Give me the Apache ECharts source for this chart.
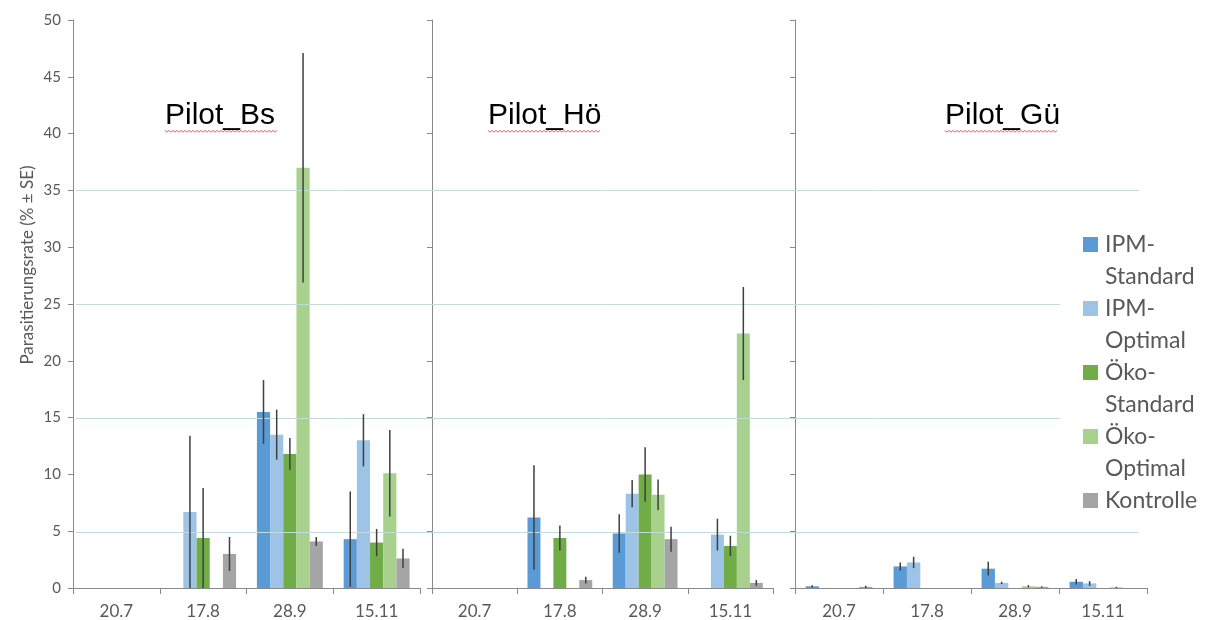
<!DOCTYPE html>
<html><head><meta charset="utf-8">
<script src="https://cdn.jsdelivr.net/npm/echarts@6/dist/echarts.min.js"></script>
<style>html,body{margin:0;padding:0;background:#fff}#c{width:1215px;height:620px}</style>
</head><body><div id="c"></div>
<script>
// ---------- data ----------
const categories = ['20.7', '17.8', '28.9', '15.11'];
const seriesNames = ['IPM-Standard', 'IPM-Optimal', 'Öko-Standard', 'Öko-Optimal', 'Kontrolle'];
const legendLabels = ['IPM-\nStandard', 'IPM-\nOptimal', 'Öko-\nStandard', 'Öko-\nOptimal', 'Kontrolle'];
const seriesColors = ['#5b9bd5', '#9dc3e6', '#70ad47', '#a9d18e', '#a5a5a5'];
const panelTitles = ['Pilot_Bs', 'Pilot_Hö', 'Pilot_Gü'];
const yMin = 0, yMax = 50, yInterval = 5;
const gridLineValues = [5, 15, 25, 35];
const yAxisTitle = 'Parasitierungsrate (% ± SE)';

// means per series (rows: IPM-Std, IPM-Opt, Öko-Std, Öko-Opt, Kontrolle), columns: categories
const bsMeans = [
  [0, 0, 15.5, 4.3],
  [0, 6.7, 13.5, 13.0],
  [0, 4.4, 11.8, 4.0],
  [0, 0, 37.0, 10.1],
  [0, 3.0, 4.1, 2.6]
];
const bsSE = [
  [0, 0, 2.8, 4.2],
  [0, 6.7, 2.2, 2.3],
  [0, 4.4, 1.4, 1.2],
  [0, 0, 10.1, 3.8],
  [0, 1.5, 0.4, 0.85]
];
const hoMeans = [
  [0, 6.2, 4.8, 0],
  [0, 0, 8.3, 4.7],
  [0, 4.4, 10.0, 3.7],
  [0, 0, 8.2, 22.4],
  [0, 0.7, 4.3, 0.45]
];
const hoSE = [
  [0, 4.6, 1.7, 0],
  [0, 0, 1.2, 1.4],
  [0, 1.1, 2.4, 0.9],
  [0, 0, 1.35, 4.1],
  [0, 0.3, 1.1, 0.25]
];
const guMeans = [
  [0.15, 1.9, 1.7, 0.55],
  [0, 2.25, 0.45, 0.4],
  [0, 0, 0, 0],
  [0, 0, 0.15, 0.05],
  [0.1, 0, 0.1, 0]
];
const guSE = [
  [0.1, 0.35, 0.6, 0.25],
  [0, 0.5, 0.1, 0.2],
  [0, 0, 0, 0],
  [0, 0, 0.1, 0.05],
  [0.1, 0, 0.05, 0]
];

// ---------- chart ----------
const panelMeans = [bsMeans, hoMeans, guMeans];
const panelSE = [bsSE, hoSE, guSE];
const GAP = 0.24;
const AXIS_COLOR = '#8a8a8a';
const TEXT_COLOR = '#595959';
const FONT = 'Lato';

const panelLayout = [
  { left: 73, width: 347 },
  { left: 432, width: 341 },
  { left: 795, width: 352 }
];

const grids = panelLayout.map(p => ({ left: p.left, width: p.width, top: 20, bottom: 31 }));
grids.push({ left: 76, right: 76, top: 20, bottom: 31 });

const xAxes = panelLayout.map((p, i) => ({
  type: 'category', gridIndex: i, data: categories,
  axisLine: { lineStyle: { color: AXIS_COLOR, width: 1 } },
  axisTick: { show: true, length: 6, lineStyle: { color: AXIS_COLOR } },
  axisLabel: { color: TEXT_COLOR, fontSize: 17, fontFamily: FONT, margin: 15 }
}));
xAxes.push({ type: 'value', gridIndex: 3, min: 0, max: 1, show: false });

const yAxes = panelLayout.map((p, i) => ({
  type: 'value', gridIndex: i, min: yMin, max: yMax, interval: yInterval,
  axisLine: { show: true, lineStyle: { color: AXIS_COLOR, width: 1 } },
  axisTick: { show: true, length: 5, lineStyle: { color: AXIS_COLOR } },
  axisLabel: { show: i === 0, color: TEXT_COLOR, fontSize: 15, fontFamily: FONT, margin: 12 },
  splitLine: { show: false }
}));
yAxes.push({ type: 'value', gridIndex: 3, min: yMin, max: yMax, show: false });

const series = [];
for (let p = 0; p < 3; p++) {
  for (let s = 0; s < seriesNames.length; s++) {
    series.push({
      type: 'bar', name: seriesNames[s], xAxisIndex: p, yAxisIndex: p,
      data: panelMeans[p][s],
      barGap: 0, barCategoryGap: (GAP * 100) + '%',
      itemStyle: { color: seriesColors[s] },
      silent: true, z: 2
    });
  }
  for (let s = 0; s < seriesNames.length; s++) {
    const sIdx = s;
    series.push({
      type: 'custom', name: seriesNames[s] + ' SE', xAxisIndex: p, yAxisIndex: p,
      silent: true, z: 6,
      data: panelMeans[p][s].map((m, i) => [i, m, panelSE[p][s][i]]),
      renderItem: function (params, api) {
        const ci = api.value(0), m = api.value(1), se = api.value(2);
        if (!se) return null;
        const band = api.size([1, 0])[0];
        const bw = band * (1 - GAP) / 5;
        const cx = api.coord([ci, 0])[0] + (sIdx - 2) * bw;
        const yTop = api.coord([ci, m + se])[1];
        const yBot = api.coord([ci, Math.max(0, m - se)])[1];
        return {
          type: 'line',
          shape: { x1: cx, y1: yTop, x2: cx, y2: yBot },
          style: { stroke: '#3f3f3f', lineWidth: 1.5 }
        };
      }
    });
  }
}
// horizontal reference lines spanning all panels
series.push({
  type: 'line', xAxisIndex: 3, yAxisIndex: 3, data: [[0, 0]],
  symbol: 'none', lineStyle: { width: 0, opacity: 0 }, silent: true, z: 8,
  markLine: {
    silent: true, symbol: 'none', label: { show: false },
    lineStyle: { color: '#c2dcdc', width: 1, type: 'solid' },
    emphasis: { disabled: true },
    data: gridLineValues.map(v => ({ yAxis: v }))
  }
});

// graphics: titles, legend, y axis name
const titleLeft = [165, 488, 945];
const graphic = [];
panelTitles.forEach((t, i) => {
  graphic.push({
    type: 'text', left: titleLeft[i], top: 101, z: 100,
    style: { text: t, fill: '#000', font: '30px "Liberation Sans", Arial, sans-serif' }
  });
  // red spell-check wavy underline
  const w = t.length * 14.2;
  const pts = [];
  for (let x = 0; x <= w; x += 2) pts.push([titleLeft[i] + x, 131 + ((x / 2) % 2 ? 1.2 : -0.6)]);
  graphic.push({ type: 'polyline', z: 100, shape: { points: pts }, style: { stroke: '#e06060', lineWidth: 1, fill: null } });
});
graphic.push({
  type: 'text', x: 28, y: 265, rotation: Math.PI / 2, z: 100,
  style: { text: yAxisTitle, fill: TEXT_COLOR, font: '17px ' + FONT, align: 'center', verticalAlign: 'middle' }
});
// legend with white backdrop
graphic.push({ type: 'rect', z: 90, shape: { x: 1060, y: 215, width: 155, height: 305 }, style: { fill: '#fff' } });
legendLabels.forEach((lbl, i) => {
  const cy = 245 + i * 64;
  graphic.push({ type: 'rect', z: 100, shape: { x: 1083, y: cy - 8, width: 15, height: 15 }, style: { fill: seriesColors[i] } });
  graphic.push({
    type: 'text', z: 100, x: 1105, y: cy - 16,
    style: { text: lbl, fill: TEXT_COLOR, font: '23px ' + FONT, lineHeight: 32, verticalAlign: 'top' }
  });
});

const chart = echarts.init(document.getElementById('c'), null, { renderer: 'canvas' });
chart.setOption({
  animation: false,
  backgroundColor: '#fff',
  grid: grids,
  xAxis: xAxes,
  yAxis: yAxes,
  series: series,
  graphic: graphic
});
</script>
</body></html>
